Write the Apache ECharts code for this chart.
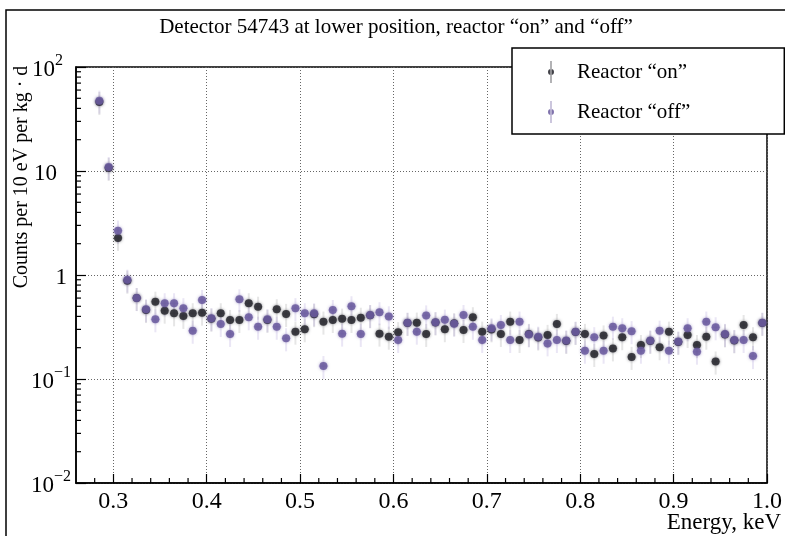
<!DOCTYPE html>
<html><head><meta charset="utf-8">
<script src="https://cdn.jsdelivr.net/npm/echarts@6/dist/echarts.min.js"></script>
<style>html,body{margin:0;padding:0;background:#fff}#c{width:785px;height:536px}</style>
</head><body><div id="c"></div>
<script>
const titleText = 'Detector 54743 at lower position, reactor \u201Con\u201D and \u201Coff\u201D';
const yTitle = 'Counts per 10 eV per kg \u00B7 d';
const xTitle = 'Energy, keV';
const seriesNames = ['Reactor \u201Con\u201D', 'Reactor \u201Coff\u201D'];

const energy = [
 0.285,0.295,0.305,0.315,0.325,0.335,0.345,0.355,0.365,0.375,
 0.385,0.395,0.405,0.415,0.425,0.435,0.445,0.455,0.465,0.475,
 0.485,0.495,0.505,0.515,0.525,0.535,0.545,0.555,0.565,0.575,
 0.585,0.595,0.605,0.615,0.625,0.635,0.645,0.655,0.665,0.675,
 0.685,0.695,0.705,0.715,0.725,0.735,0.745,0.755,0.765,0.775,
 0.785,0.795,0.805,0.815,0.825,0.835,0.845,0.855,0.865,0.875,
 0.885,0.895,0.905,0.915,0.925,0.935,0.945,0.955,0.965,0.975,
 0.985,0.995];

const countsOn = [
 46,10.7,2.27,0.88,0.60,0.46,0.553,0.454,0.428,0.404,
 0.428,0.434,0.38,0.428,0.369,0.369,0.534,0.495,0.37,0.468,
 0.422,0.285,0.301,0.42,0.356,0.369,0.38,0.369,0.388,0.41,
 0.273,0.255,0.282,0.345,0.348,0.271,0.35,0.301,0.343,0.296,
 0.392,0.285,0.30,0.271,0.356,0.237,0.271,0.25,0.265,0.338,
 0.232,0.283,0.271,0.174,0.262,0.197,0.252,0.163,0.212,0.232,
 0.202,0.285,0.227,0.265,0.212,0.255,0.147,0.268,0.235,0.330,
 0.252,0.345];

const countsOff = [
 47.4,10.9,2.67,0.90,0.60,0.468,0.375,0.534,0.534,0.479,
 0.291,0.575,0.384,0.338,0.271,0.583,0.392,0.318,0.375,0.318,
 0.246,0.479,0.428,0.428,0.133,0.46,0.273,0.50,0.271,0.412,
 0.438,0.40,0.237,0.348,0.285,0.408,0.352,0.372,0.34,0.412,
 0.318,0.237,0.307,0.330,0.237,0.356,0.268,0.255,0.220,0.237,
 0.235,0.285,0.187,0.252,0.187,0.318,0.307,0.288,0.187,0.235,
 0.291,0.187,0.229,0.307,0.183,0.356,0.314,0.271,0.237,0.237,
 0.166,0.348];

const relErr = 0.25;
const binHalf = 0.005;

const xTicks = [0.3,0.4,0.5,0.6,0.7,0.8,0.9,1.0];
const xTickLabels = ['0.3','0.4','0.5','0.6','0.7','0.8','0.9','1.0'];
const xMinorTicks = [0.28,0.32,0.34,0.36,0.38,0.42,0.44,0.46,0.48,0.52,0.54,0.56,0.58,
 0.62,0.64,0.66,0.68,0.72,0.74,0.76,0.78,0.82,0.84,0.86,0.88,0.92,0.94,0.96,0.98];
const yTicks = [0.01,0.1,1,10,100];
const yTickLabels = ['{b|10}{s|\u22122}','{b|10}{s|\u22121}','{b|1}{g|}','{b|10}{h|}','{b|10}{s|2}{h2|}'];
const yMinorTicks = [0.02,0.03,0.04,0.05,0.06,0.07,0.08,0.09,
 0.2,0.3,0.4,0.5,0.6,0.7,0.8,0.9,
 2,3,4,5,6,7,8,9,
 20,30,40,50,60,70,80,90];

const FONT = '"Liberation Serif", "Times New Roman", serif';
const colOn = '#2e2e34';
const colOff = '#6a5a9e';
const xMin = 0.26, xMax = 1.0, yMin = 0.01, yMax = 100;

function errSeries(vals, color){
  return {
    type:'custom', silent:true, z:2,
    data: energy.map((e,i)=>[e, vals[i]]),
    renderItem(params, api){
      const x = api.value(0), y = api.value(1);
      const p = api.coord([x,y]);
      const hi = api.coord([x, y*(1+relErr)]);
      const lo = api.coord([x, y*(1-relErr)]);
      const l = api.coord([x-binHalf, y]);
      const r = api.coord([x+binHalf, y]);
      return {type:'group', children:[
        {type:'line', shape:{x1:p[0],y1:hi[1],x2:p[0],y2:lo[1]}, style:{stroke:color, lineWidth:2, opacity:0.16}},
        {type:'line', shape:{x1:l[0],y1:p[1],x2:r[0],y2:p[1]}, style:{stroke:color, lineWidth:1.5, opacity:0.25}}
      ]};
    }
  };
}

const chart = echarts.init(document.getElementById('c'), null, {renderer:'canvas'});
chart.setOption({
  animation:false,
  backgroundColor:'#fff',
  title:{text:titleText, left:391, top:12, textAlign:'center',
    textStyle:{fontFamily:FONT, fontSize:21, fontWeight:'normal', color:'#000'}},
  grid:{left:76, right:11, top:67, bottom:53, show:true, borderColor:'#000', borderWidth:1.5, backgroundColor:'transparent'},
  legend:{
    orient:'vertical', left:512, top:48, padding:[13,94,11,36], itemGap:18,
    itemWidth:10, itemHeight:22, backgroundColor:'#fff', borderColor:'#000', borderWidth:1.5,
    textStyle:{fontFamily:FONT, fontSize:21, color:'#000', padding:[0,0,0,16]},
    selectedMode:false,
    data:[
      {name:seriesNames[0], icon:'path://M4.6,0h0.8v22h-0.8z M2,11a3,3 0 1,0 6,0a3,3 0 1,0 -6,0z'},
      {name:seriesNames[1], icon:'path://M4.6,0h0.8v22h-0.8z M2,11a3,3 0 1,0 6,0a3,3 0 1,0 -6,0z'}
    ]
  },
  xAxis:{
    type:'value', min:xMin, max:xMax,
    axisLine:{show:true, onZero:false, lineStyle:{color:'#000', width:1.5}},
    axisTick:{show:true, inside:true, length:9, customValues:xTicks, lineStyle:{color:'#000', width:1.2}},
    axisLabel:{customValues:xTicks, margin:7, fontFamily:FONT, fontSize:24, color:'#000', hideOverlap:false,
      formatter:(v)=>{ let k=0; xTicks.forEach((t,i)=>{ if(Math.abs(t-v)<1e-6) k=i; }); return xTickLabels[k]; }},
    splitLine:{show:true, lineStyle:{color:'#666', width:1, type:[1,2]}}
  },
  yAxis:{
    type:'log', logBase:10, min:yMin, max:yMax,
    axisLine:{show:true, lineStyle:{color:'#000', width:1.5}},
    axisTick:{show:true, inside:true, length:10, lineStyle:{color:'#000', width:1.2}},
    axisLabel:{margin:5, fontFamily:FONT, color:'#000',
      formatter:(v)=>{ const k = Math.round(Math.log10(v)) + 2; return yTickLabels[k] || ''; },
      rich:{
        b:{fontFamily:FONT, fontSize:23, lineHeight:28, verticalAlign:'bottom', color:'#000'},
        s:{fontFamily:FONT, fontSize:16, lineHeight:16, verticalAlign:'top', color:'#000'},
        g:{width:4},
        h:{width:14},
        h2:{width:8}
      }},
    splitLine:{show:true, lineStyle:{color:'#666', width:1, type:[1,2]}}
  },
  graphic:[
    {type:'rect', shape:{x:6, y:10, width:900, height:700}, style:{fill:'none', stroke:'#000', lineWidth:1.5}, silent:true},
    {type:'text', x:22, y:177, rotation:Math.PI/2, style:{text:yTitle, font:'20px '+FONT, fill:'#000', align:'center', verticalAlign:'middle'}},
    {type:'text', x:781, y:523, style:{text:xTitle, font:'23px '+FONT, fill:'#000', align:'right', verticalAlign:'middle'}}
  ],
  series:[
    {
      type:'custom', silent:true, z:3, clip:false,
      data: xMinorTicks.map(v=>[v, yMin]),
      renderItem(params, api){
        const p = api.coord([api.value(0), api.value(1)]);
        return {type:'line', shape:{x1:p[0],y1:p[1],x2:p[0],y2:p[1]-5}, style:{stroke:'#000', lineWidth:1.2}};
      }
    },
    {
      type:'custom', silent:true, z:3, clip:false,
      data: yMinorTicks.map(v=>[xMin, v]),
      renderItem(params, api){
        const p = api.coord([api.value(0), api.value(1)]);
        return {type:'line', shape:{x1:p[0],y1:p[1],x2:p[0]+5,y2:p[1]}, style:{stroke:'#000', lineWidth:1.2}};
      }
    },
    errSeries(countsOn, '#666'),
    errSeries(countsOff, '#7a66c0'),
    {name:seriesNames[0], type:'scatter', z:4, symbol:'circle', symbolSize:8,
      data: energy.map((e,i)=>[e, countsOn[i]]),
      itemStyle:{color:colOn, opacity:0.9, shadowBlur:3, shadowColor:'rgba(40,40,50,0.6)'}},
    {name:seriesNames[1], type:'scatter', z:5, symbol:'circle', symbolSize:8,
      data: energy.map((e,i)=>[e, countsOff[i]]),
      itemStyle:{color:colOff, opacity:0.85, shadowBlur:3, shadowColor:'rgba(100,80,160,0.6)'}}
  ]
});
</script></body></html>
